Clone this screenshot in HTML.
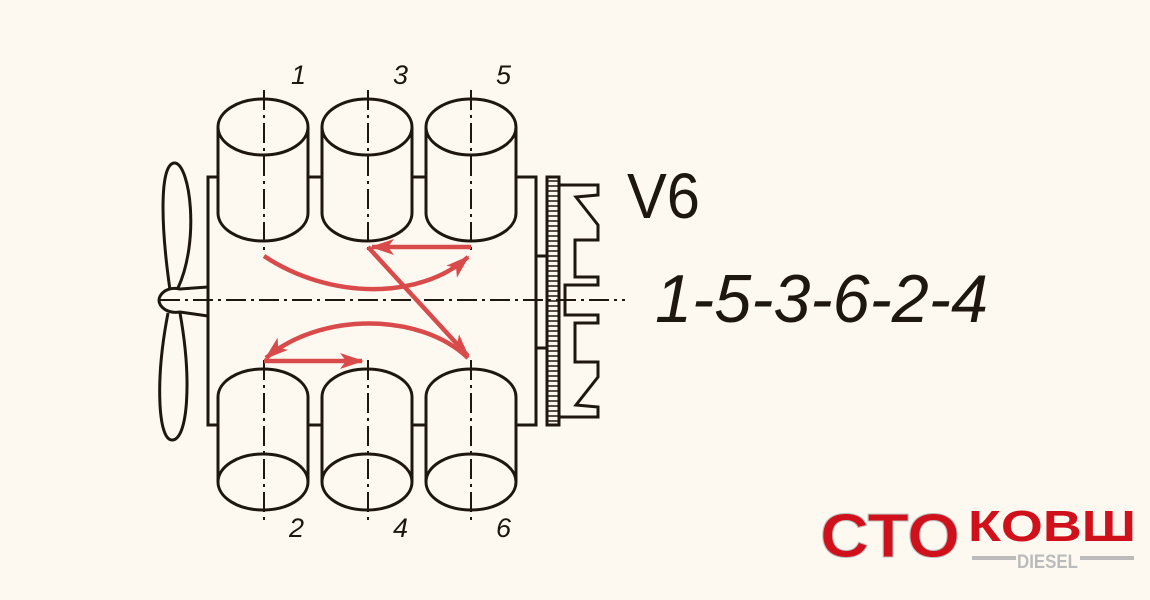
<!DOCTYPE html>
<html><head><meta charset="utf-8"><style>
html,body{margin:0;padding:0;background:#fdf9f0;}
svg{display:block}
</style></head><body>
<svg width="1150" height="600" viewBox="0 0 1150 600" xmlns="http://www.w3.org/2000/svg">
<rect width="1150" height="600" fill="#fdf9f0"/>
<defs>
<marker id="ah" viewBox="0 0 24 16" refX="22" refY="8" markerWidth="24" markerHeight="16" markerUnits="userSpaceOnUse" orient="auto">
<path d="M0,0 L24,8 L0,16 L6,8 Z" fill="#d94a4a"/>
</marker>
</defs>
<g fill="none" stroke="#1e1710" stroke-width="3">
<path d="M218,177 H208 V425 H218"/>
<path d="M308,177 H322 M412,177 H426 M308,425 H322 M412,425 H426"/>
<path d="M516,177 H536 V425 H516"/>
<g id="c1">
<ellipse cx="263" cy="127" rx="45" ry="28" fill="#fdf9f0"/>
<path d="M218,127 V213 A45,28 0 0 0 308,213 V127"/>
</g>
<use href="#c1" x="104"/>
<use href="#c1" x="208"/>
<g id="c2">
<path d="M218,482 V397 A45,28 0 0 1 308,397 V482"/>
<ellipse cx="263" cy="482" rx="45" ry="28"/>
</g>
<use href="#c2" x="104"/>
<use href="#c2" x="208"/>
<g stroke-width="2" stroke-dasharray="20,5,3,5">
<path d="M264,90 V250 M368,90 V250 M471,90 V250"/>
<path d="M264,360 V520 M368,360 V520 M471,360 V520"/>
<path d="M160,300 H625"/>
</g>
<path d="M536,256 H547 V348 H536"/>
<rect x="547" y="177" width="12" height="248" stroke-width="3"/>
<path d="M547,181 h12 M547,186 h12 M547,191 h12 M547,196 h12 M547,201 h12 M547,206 h12 M547,211 h12 M547,216 h12 M547,221 h12 M547,226 h12 M547,231 h12 M547,236 h12 M547,241 h12 M547,246 h12 M547,251 h12 M547,256 h12 M547,261 h12 M547,266 h12 M547,271 h12 M547,276 h12 M547,281 h12 M547,286 h12 M547,291 h12 M547,296 h12 M547,301 h12 M547,306 h12 M547,311 h12 M547,316 h12 M547,321 h12 M547,326 h12 M547,331 h12 M547,336 h12 M547,341 h12 M547,346 h12 M547,351 h12 M547,356 h12 M547,361 h12 M547,366 h12 M547,371 h12 M547,376 h12 M547,381 h12 M547,386 h12 M547,391 h12 M547,396 h12 M547,401 h12 M547,406 h12 M547,411 h12 M547,416 h12 M547,421 h12" stroke-width="1.5"/>
<path d="M559,185 H598 V195 L576,197 L598,225 V240 H575 V277 H598 V285 H565 V315 H598 V323 H575 V362 H598 V377 L576,405 L598,407 V417 H559"/>
<path d="M178,288 C200,240 190,165 175,163 C160,162 160,220 170,290"/>
<path d="M168,313 C155,380 158,440 172,440 C188,440 192,380 180,313"/>
<path d="M208,287 L180,289 C166,286 159,295 159,300 C159,306 166,314 180,312 L208,316"/>
</g>
<g fill="none" stroke="#d94a4a" stroke-width="4.5">
<path d="M471,247 H372" marker-end="url(#ah)"/>
<path d="M368,247 L468,356" marker-end="url(#ah)"/>
<path d="M264,256 C330,300 420,300 468,257" marker-end="url(#ah)"/>
<path d="M468,358 C420,312 320,312 266,358" marker-end="url(#ah)"/>
<path d="M264,361 H362" marker-end="url(#ah)"/>
</g>
<g font-family="Liberation Sans, sans-serif" font-style="italic" font-size="27" fill="#1e1710">
<text x="291" y="84">1</text><text x="393" y="84">3</text><text x="496" y="84">5</text>
<text x="289" y="537">2</text><text x="393" y="537">4</text><text x="496" y="537">6</text>
</g>
<text x="627" y="218" font-family="Liberation Sans, sans-serif" font-size="64" textLength="73" lengthAdjust="spacingAndGlyphs" fill="#1e1710">V6</text>
<text x="655" y="322" font-family="Liberation Sans, sans-serif" font-style="italic" font-size="68" textLength="333" lengthAdjust="spacingAndGlyphs" fill="#1e1710">1-5-3-6-2-4</text>
<g font-family="Liberation Sans, sans-serif" font-weight="bold">
<text x="820" y="557" font-size="62" fill="#d0101a" stroke="#bbb" stroke-width="1" textLength="140" lengthAdjust="spacingAndGlyphs">СТО</text>
<text x="968" y="541" font-size="44" fill="#d0101a" textLength="168" lengthAdjust="spacingAndGlyphs">КОВШ</text>
<rect x="972" y="556" width="44" height="4" fill="#bbb"/>
<rect x="1080" y="556" width="54" height="4" fill="#bbb"/>
<text x="1017" y="568" font-size="19" fill="#bbb" textLength="61" lengthAdjust="spacingAndGlyphs">DIESEL</text>
</g>
</svg>
</body></html>
